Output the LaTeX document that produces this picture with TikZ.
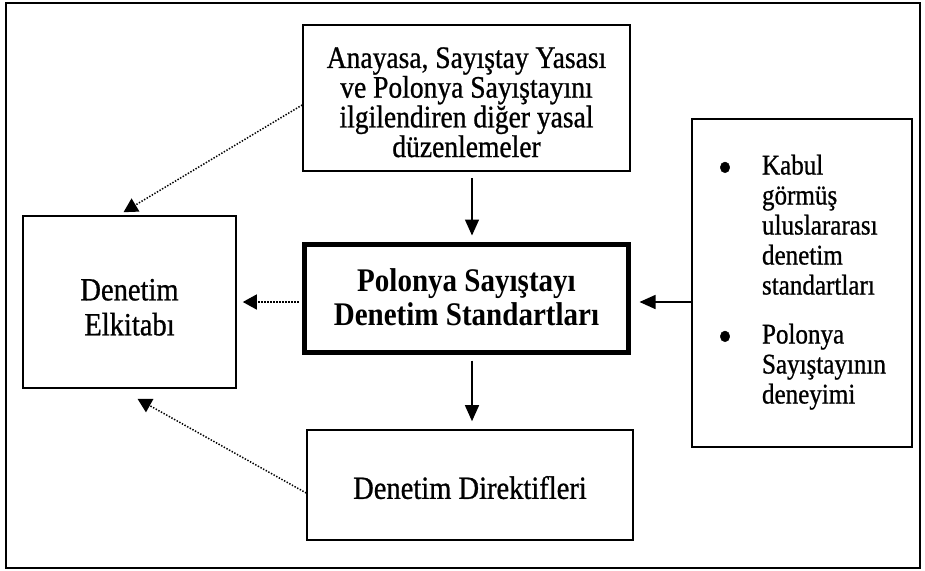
\documentclass[tikz,border=0pt]{standalone}
\usepackage{fontspec}
\usepackage{graphicx}
\setmainfont{Liberation Serif}[FakeStretch=0.88,UprightFeatures={FakeBold=0.8}]
\usetikzlibrary{arrows.meta,calc}
\newcommand{\bigbul}{\raisebox{-8pt}{\scalebox{1.6}{\textbullet}}}
\begin{document}
\begin{tikzpicture}[x=1pt,y=-1pt,
  box/.style={draw=black,line width=1.6pt,rectangle,inner sep=0pt,align=center},
  arr/.style={line width=1.5pt,-{Triangle[length=16pt,width=14pt]}},
  dotarr/.style={line width=1.5pt,dash pattern=on 1.4pt off 1.6pt,-{Triangle[length=14pt,width=15pt]}}]
\useasboundingbox (0,0) rectangle (925,570);
\node[draw=black,line width=1.5pt,rectangle,minimum width=914pt,minimum height=565pt,inner sep=0pt] (frame) at (463,285.5) {};
\node[box,minimum width=327pt,minimum height=146pt,font=\fontsize{31.3}{29.7}\selectfont] (top) at (466.5,98)
  {\rule{0pt}{29.3pt}Anayasa, Sayıştay Yasası\\ve Polonya Sayıştayını\\ilgilendiren diğer yasal\\düzenlemeler};
\node[box,minimum width=213pt,minimum height=172pt,font=\fontsize{32.4}{35}\selectfont] (left) at (129.5,302)
  {\rule{0pt}{32pt}Denetim\\Elkitabı};
\node[box,line width=5pt,minimum width=324pt,minimum height=108pt,font=\fontsize{33}{34}\selectfont\bfseries] (center) at (466.5,298.5)
  {Polonya Sayıştayı\\Denetim Standartları\rule[-3pt]{0pt}{0pt}};
\node[box,minimum width=326pt,minimum height=110pt,font=\fontsize{32.4}{35}\selectfont] (bottom) at (470,485)
  {\rule{0pt}{28pt}Denetim Direktifleri};
\node[box,minimum width=220pt,minimum height=328pt,font=\fontsize{28.5}{30}\selectfont] (right) at (802,283)
  {\begin{tabular}{@{}p{44pt}@{}l@{}}
  \bigbul & Kabul\\ & görmüş\\ & uluslararası\\ & denetim\\ & standartları\\[19pt]
  \bigbul & Polonya\\ & Sayıştayının\\ & deneyimi
  \end{tabular}};
% solid arrows
\draw[arr] ($(top.south)+(5.5,6)$) -- ($(center.north)+(5.5,-6.5)$);
\draw[arr] ($(center.south)+(5.5,5.5)$) -- ($(bottom.north)+(2,-8)$);
\draw[arr] ($(right.west)+(0,19)$) -- ($(center.east)+(8.5,3.5)$);
% dotted arrows
\draw[dotarr] ($(center.west)+(-3.5,3.5)$) -- ($(left.east)+(6,0)$);
\draw[dotarr] ($(top.west)+(0,7)$) -- ($(left.north)+(-6,-3)$);
\draw[dotarr] ($(bottom.west)+(0,8)$) -- ($(left.south)+(8,10)$);
\end{tikzpicture}
\end{document}
